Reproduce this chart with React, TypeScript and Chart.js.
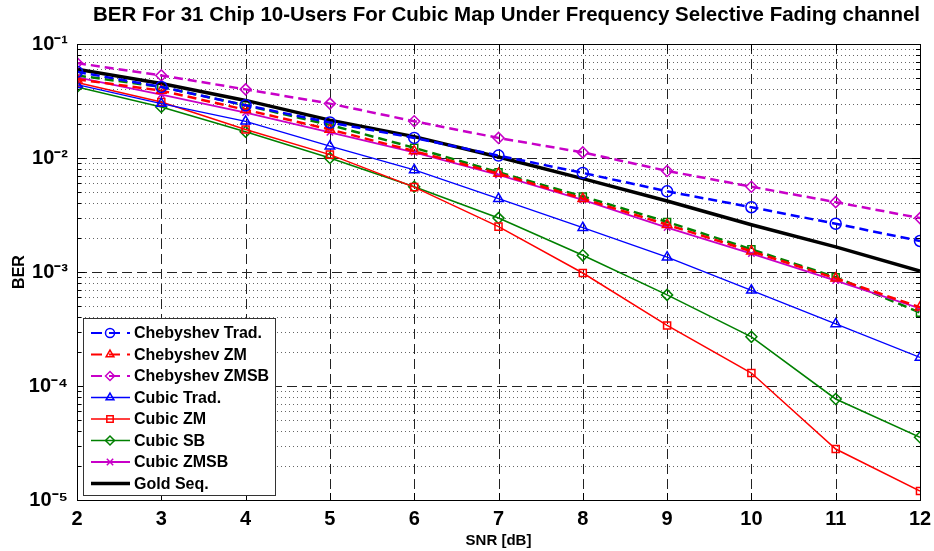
import React, { useEffect, useRef } from 'react';
import { Chart, registerables } from 'chart.js';
import { drawPoint } from 'chart.js/helpers';

Chart.register(...registerables);

const snr = [2, 3, 4, 5, 6, 7, 8, 9, 10, 11, 12];
const chebTrad = [5.7e-2, 4.2e-2, 2.9e-2, 2.05e-2, 1.5e-2, 1.05e-2, 7.4e-3, 5.1e-3, 3.7e-3, 2.65e-3, 1.87e-3];
const chebZM = [4.9e-2, 3.9e-2, 2.65e-2, 1.78e-2, 1.15e-2, 7.3e-3, 4.4e-3, 2.6e-3, 1.52e-3, 8.8e-4, 4.9e-4];
const chebZMSB = [6.8e-2, 5.3e-2, 4.0e-2, 3.0e-2, 2.1e-2, 1.5e-2, 1.12e-2, 7.7e-3, 5.6e-3, 4.1e-3, 2.97e-3];
const cubicTrad = [4.4e-2, 3.0e-2, 2.1e-2, 1.27e-2, 7.85e-3, 4.4e-3, 2.45e-3, 1.35e-3, 6.9e-4, 3.5e-4, 1.78e-4];
const cubicZM = [4.6e-2, 3.1e-2, 1.78e-2, 1.07e-2, 5.55e-3, 2.5e-3, 9.8e-4, 3.4e-4, 1.3e-4, 2.8e-5, 1.2e-5];
const cubicSB = [4.2e-2, 2.8e-2, 1.7e-2, 1.0e-2, 5.6e-3, 2.97e-3, 1.4e-3, 6.3e-4, 2.7e-4, 7.7e-5, 3.55e-5];
const cubicZMSB = [5.1e-2, 3.6e-2, 2.5e-2, 1.68e-2, 1.12e-2, 7.1e-3, 4.3e-3, 2.45e-3, 1.45e-3, 8.4e-4, 4.8e-4];
const goldSeq = [6.0e-2, 4.5e-2, 3.2e-2, 2.15e-2, 1.54e-2, 1.02e-2, 6.6e-3, 4.2e-3, 2.6e-3, 1.66e-3, 1.02e-3];
const extraDashed = [5.3e-2, 4.2e-2, 2.9e-2, 1.95e-2, 1.23e-2, 7.5e-3, 4.6e-3, 2.75e-3, 1.58e-3, 9.0e-4, 4.4e-4];

const yTickExps = [-5, -4, -3, -2, -1];
const supers: Record<number, string> = { [-1]: '⁻¹', [-2]: '⁻²', [-3]: '⁻³', [-4]: '⁻⁴', [-5]: '⁻⁵' };

const BLUE = '#0000ff';
const RED = '#ff0000';
const MAG = '#c800c8';
const GREEN = '#008000';
const DASH = [9, 5];
const FONT = '"Liberation Sans", Arial, sans-serif';

const mk = (label: string, data: number[], color: string, opts: any) => ({
  label,
  data: snr.map((x, i) => ({ x, y: data[i] })),
  borderColor: color,
  pointBorderColor: color,
  pointBackgroundColor: 'rgba(0,0,0,0)',
  pointBorderWidth: 1.5,
  pointRadius: 5.5,
  borderWidth: 1.5,
  fill: false,
  tension: 0,
  ...opts,
});

const legendPlugin = {
  id: 'matlabLegend',
  afterDatasetsDraw(chart: any) {
    const { ctx } = chart;
    const boxL = 83, boxT = 318, boxR = 275, boxB = 495;
    ctx.save();
    ctx.fillStyle = '#ffffff';
    ctx.fillRect(boxL, boxT, boxR - boxL, boxB - boxT);
    ctx.strokeStyle = '#333333';
    ctx.lineWidth = 1;
    ctx.setLineDash([]);
    ctx.strokeRect(boxL + 0.5, boxT + 0.5, boxR - boxL, boxB - boxT);
    const items = chart.data.datasets.filter((d: any) => d.inLegend !== false);
    items.forEach((d: any, i: number) => {
      const cy = 333 + i * 21.5;
      ctx.strokeStyle = d.borderColor;
      ctx.lineWidth = Math.min(d.borderWidth, 2);
      ctx.setLineDash(d.borderDash ? [11, 7] : []);
      ctx.beginPath();
      ctx.moveTo(91, cy);
      ctx.lineTo(130, cy);
      ctx.stroke();
      ctx.setLineDash([]);
      if (d.label === 'Gold Seq.') {
        ctx.lineWidth = 3.5;
        ctx.beginPath();
        ctx.moveTo(91, cy);
        ctx.lineTo(130, cy);
        ctx.stroke();
      }
      if (d.pointRadius > 0) {
        ctx.strokeStyle = d.pointBorderColor;
        ctx.fillStyle = 'rgba(0,0,0,0)';
        ctx.lineWidth = d.pointBorderWidth;
        drawPoint(ctx, { pointStyle: d.pointStyle, radius: 4.5, rotation: 0, borderWidth: d.pointBorderWidth }, 110, cy);
      }
      ctx.fillStyle = '#000000';
      ctx.font = 'bold 16px ' + FONT;
      ctx.textBaseline = 'middle';
      ctx.textAlign = 'left';
      ctx.fillText(d.label, 134, cy + 1);
    });
    ctx.restore();
  },
};

const gridPlugin = {
  id: 'matlabGrid',
  beforeDatasetsDraw(chart: any) {
    const { ctx, chartArea: a, scales } = chart;
    const xs = scales.x, ys = scales.y;
    ctx.save();
    ctx.lineWidth = 1;
    ctx.strokeStyle = '#666666';
    ctx.setLineDash([1, 3]);
    for (let e = -5; e < -1; e++) {
      for (let k = 2; k <= 9; k++) {
        const py = Math.round(ys.getPixelForValue(k * Math.pow(10, e))) + 0.5;
        ctx.beginPath();
        ctx.moveTo(a.left, py);
        ctx.lineTo(a.right, py);
        ctx.stroke();
      }
    }
    ctx.strokeStyle = '#222222';
    ctx.setLineDash([10, 5]);
    for (const e of [-4, -3, -2]) {
      const py = Math.round(ys.getPixelForValue(Math.pow(10, e))) + 0.5;
      ctx.beginPath();
      ctx.moveTo(a.left, py);
      ctx.lineTo(a.right, py);
      ctx.stroke();
    }
    for (let v = 3; v <= 11; v++) {
      const px = Math.round(xs.getPixelForValue(v)) + 0.5;
      ctx.beginPath();
      ctx.moveTo(px, a.top);
      ctx.lineTo(px, a.bottom);
      ctx.stroke();
    }
    ctx.setLineDash([]);
    ctx.strokeStyle = '#000000';
    for (let e = -5; e < -1; e++) {
      for (let k = 1; k <= 9; k++) {
        const py = Math.round(ys.getPixelForValue(k * Math.pow(10, e))) + 0.5;
        const len = k === 1 ? 8 : 4;
        ctx.beginPath();
        ctx.moveTo(a.left, py);
        ctx.lineTo(a.left + len, py);
        ctx.moveTo(a.right, py);
        ctx.lineTo(a.right - len, py);
        ctx.stroke();
      }
    }
    for (let v = 3; v <= 11; v++) {
      const px = Math.round(xs.getPixelForValue(v)) + 0.5;
      ctx.beginPath();
      ctx.moveTo(px, a.top);
      ctx.lineTo(px, a.top + 7);
      ctx.moveTo(px, a.bottom);
      ctx.lineTo(px, a.bottom - 7);
      ctx.stroke();
    }
    ctx.restore();
  },
  afterDatasetsDraw(chart: any) {
    const { ctx, chartArea: a } = chart;
    ctx.save();
    ctx.strokeStyle = '#000000';
    ctx.lineWidth = 1;
    ctx.setLineDash([]);
    ctx.strokeRect(Math.round(a.left) + 0.5, Math.round(a.top) + 0.5, Math.round(a.right - a.left), Math.round(a.bottom - a.top));
    ctx.restore();
  },
};

export default function App() {
  const ref = useRef<HTMLCanvasElement>(null);
  useEffect(() => {
    if (!ref.current) return;
    const datasets: any[] = [
      mk('Chebyshev Trad.', chebTrad, BLUE, { borderDash: DASH, borderWidth: 2.5, pointStyle: 'circle' }),
      mk('Chebyshev ZM', chebZM, RED, { borderDash: DASH, borderWidth: 2.5, pointStyle: 'triangle' }),
      mk('Chebyshev ZMSB', chebZMSB, MAG, { borderDash: DASH, borderWidth: 2.5, pointStyle: 'rectRot' }),
      mk('Cubic Trad.', cubicTrad, BLUE, { borderWidth: 1.3, pointStyle: 'triangle' }),
      mk('Cubic ZM', cubicZM, RED, { borderWidth: 1.5, pointStyle: 'rect', pointRadius: 5 }),
      mk('Cubic SB', cubicSB, GREEN, { borderWidth: 1.6, pointStyle: 'rectRot' }),
      mk('Cubic ZMSB', cubicZMSB, MAG, { borderWidth: 1.8, pointStyle: 'crossRot', pointRadius: 4.5 }),
      mk('Gold Seq.', goldSeq, '#000000', { borderWidth: 3.5, pointRadius: 0 }),
      mk('SB (dashed)', extraDashed, GREEN, { borderDash: DASH, borderWidth: 2.5, pointStyle: 'rect', pointRadius: 5, inLegend: false }),
    ];
    const chart = new Chart(ref.current, {
      type: 'line',
      data: { datasets },
      options: {
        responsive: false,
        animation: false,
        layout: { padding: { left: 0, right: 14, top: 0, bottom: 0 } },
        plugins: {
          legend: { display: false },
          tooltip: { enabled: false },
          title: {
            display: true,
            text: 'BER For 31 Chip 10-Users For Cubic Map Under Frequency Selective Fading channel',
            align: 'end',
            color: '#000000',
            font: { family: FONT, size: 20.5, weight: 'bold', lineHeight: 1.2 },
            padding: { top: 3, bottom: 16.4 },
          },
        },
        scales: {
          x: {
            type: 'linear',
            min: 2,
            max: 12,
            grid: { display: false, drawTicks: false },
            border: { display: false },
            ticks: {
              stepSize: 1,
              padding: 7,
              color: '#000000',
              font: { family: FONT, size: 20, weight: 'bold' },
            },
            title: {
              display: true,
              text: 'SNR [dB]',
              color: '#000000',
              font: { family: FONT, size: 15, weight: 'bold', lineHeight: 1.2 },
              padding: { top: 0, bottom: 1 },
            },
            afterFit: (s: any) => { s.height = 51; s.paddingLeft = 0; s.paddingRight = 0; },
          },
          y: {
            type: 'logarithmic',
            min: 1e-5,
            max: 1e-1,
            grid: { display: false, drawTicks: false },
            border: { display: false },
            afterBuildTicks: (s: any) => { s.ticks = yTickExps.map((e) => ({ value: Math.pow(10, e) })); },
            ticks: {
              padding: 9,
              color: '#000000',
              font: { family: FONT, size: 20, weight: 'bold' },
              callback: (v: any) => { const e = Math.round(Math.log10(Number(v))); return '10' + (supers[e] || ''); },
            },
            title: {
              display: true,
              text: 'BER',
              color: '#000000',
              font: { family: FONT, size: 16, weight: 'bold', lineHeight: 1.2 },
              padding: { top: 10, bottom: 0 },
            },
            afterFit: (s: any) => { s.width = 77; s.paddingTop = 0; s.paddingBottom = 0; },
          },
        },
      },
      plugins: [gridPlugin, legendPlugin],
    });
    return () => chart.destroy();
  }, []);
  return (
    <div style={{ position: 'absolute', left: 0, top: 0, width: 934, height: 551, background: '#ffffff' }}>
      <canvas ref={ref} width={934} height={551} style={{ width: 934, height: 551 }} />
    </div>
  );
}
